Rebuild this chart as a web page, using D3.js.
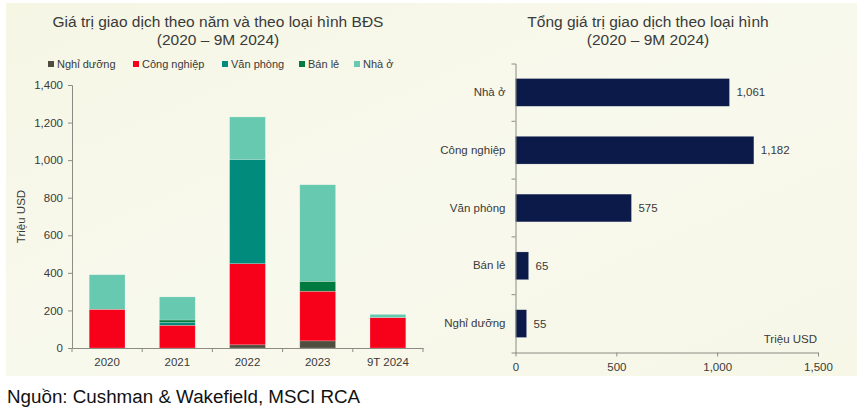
<!DOCTYPE html>
<html>
<head>
<meta charset="utf-8">
<script src="https://cdn.jsdelivr.net/npm/d3@7"></script>
<style>
  html, body { margin: 0; padding: 0; background: #ffffff; }
  svg { display: block; font-family: "Liberation Sans", Arial, sans-serif; }
</style>
</head>
<body>
<svg id="chart" width="864" height="416"></svg>
<script>
// ---------- DATA ----------
const years = ["2020", "2021", "2022", "2023", "9T 2024"];
const seriesNames = ["Nghỉ dưỡng", "Công nghiệp", "Văn phòng", "Bán lẻ", "Nhà ở"];
const nghiDuong  = [0, 0, 17, 38, 0];
const congNghiep = [206, 121, 432, 264, 162];
const vanPhong   = [0, 16, 555, 0, 0];
const banLe      = [0, 12, 0, 53, 0];
const nhaO       = [184, 123, 226, 514, 17];
const leftTicks  = [0, 200, 400, 600, 800, 1000, 1200, 1400];

const totalCategories = ["Nhà ở", "Công nghiệp", "Văn phòng", "Bán lẻ", "Nghỉ dưỡng"];
const totalValues     = [1061, 1182, 575, 65, 55];
const rightTicks      = [0, 500, 1000, 1500];

const seriesColors = ["#4f4d3e", "#f7001a", "#008b7d", "#007a3f", "#67c9b0"];

// ---------- SETUP ----------
const svg = d3.select("#chart");
const fmt = d3.format(",");
const textColor = "#3a3a3a";
const axisColor = "#8c8c84";
const fs = 11.5;

// background panel
svg.append("rect").attr("x", 6).attr("y", 3).attr("width", 851).attr("height", 373)
  .attr("fill", "#f5f6e4");
const defs = svg.append("defs");
const g1 = defs.append("linearGradient").attr("id", "sheen").attr("x1", "0").attr("y1", "0").attr("x2", "1").attr("y2", "1");
g1.append("stop").attr("offset", "0").attr("stop-color", "#ffffff").attr("stop-opacity", 0.0);
g1.append("stop").attr("offset", "0.5").attr("stop-color", "#ffffff").attr("stop-opacity", 0.35);
g1.append("stop").attr("offset", "1").attr("stop-color", "#ffffff").attr("stop-opacity", 0.1);
svg.append("rect").attr("x", 6).attr("y", 3).attr("width", 851).attr("height", 373)
  .attr("fill", "url(#sheen)");

// ---------- LEFT CHART ----------
const L = { x0: 72, x1: 423, y0: 348, y1: 85 };
const x = d3.scaleBand().domain(years).range([L.x0, L.x1]).paddingInner(0.49).paddingOuter(0.245);
const y = d3.scaleLinear().domain([0, 1400]).range([L.y0, L.y1]);

const rows = years.map((yr, i) => ({
  year: yr,
  "Nghỉ dưỡng": nghiDuong[i],
  "Công nghiệp": congNghiep[i],
  "Văn phòng": vanPhong[i],
  "Bán lẻ": banLe[i],
  "Nhà ở": nhaO[i]
}));
const stacked = d3.stack().keys(seriesNames)(rows);

svg.append("g").selectAll("g").data(stacked).join("g")
  .attr("fill", (d, i) => seriesColors[i])
  .selectAll("rect").data(d => d.filter(p => p[1] - p[0] > 0)).join("rect")
  .attr("x", d => x(d.data.year))
  .attr("width", x.bandwidth())
  .attr("y", d => y(d[1]))
  .attr("height", d => y(d[0]) - y(d[1]))
  .attr("stroke", "#ffffff").attr("stroke-opacity", 0.35).attr("stroke-width", 0.6);

// y axis
const yAxis = svg.append("g").attr("transform", `translate(${L.x0},0)`)
  .call(d3.axisLeft(y).tickValues(leftTicks).tickFormat(fmt).tickSize(4).tickSizeOuter(4).tickPadding(5));
yAxis.selectAll("path, line").attr("stroke", axisColor);
yAxis.selectAll("text").attr("fill", textColor).attr("font-size", fs);
yAxis.attr("font-family", null);

// x axis
const xAxis = svg.append("g").attr("transform", `translate(0,${L.y0})`)
  .call(d3.axisBottom(x).tickSize(0).tickSizeOuter(0).tickPadding(10));
xAxis.select("path").attr("stroke", axisColor);
xAxis.selectAll("text").attr("fill", textColor).attr("font-size", fs);
xAxis.attr("font-family", null);
const step = x.step();
const boundaries = years.map(d => x(d) - (step - x.bandwidth()) / 2).concat([x(years[years.length - 1]) + x.bandwidth() + (step - x.bandwidth()) / 2]);
xAxis.selectAll("line.bnd").data(boundaries).join("line").attr("class", "bnd")
  .attr("x1", d => d).attr("x2", d => d).attr("y1", 0).attr("y2", 4)
  .attr("stroke", axisColor);

// y label
svg.append("text").attr("transform", `translate(25,${(L.y0 + L.y1) / 2}) rotate(-90)`)
  .attr("text-anchor", "middle").attr("font-size", fs).attr("fill", textColor).text("Triệu USD");

// title
const t1 = svg.append("text").attr("x", 218).attr("text-anchor", "middle").attr("fill", textColor).attr("font-size", 15.5);
t1.append("tspan").attr("x", 218).attr("y", 27).text("Giá trị giao dịch theo năm và theo loại hình BĐS");
t1.append("tspan").attr("x", 218).attr("y", 45).text("(2020 – 9M 2024)");

// legend
const legendX = [48, 133, 222, 299, 354];
const lg = svg.append("g").selectAll("g").data(seriesNames).join("g")
  .attr("transform", (d, i) => `translate(${legendX[i]},64)`);
lg.append("rect").attr("x", 0).attr("y", -3).attr("width", 6).attr("height", 6).attr("fill", (d, i) => seriesColors[i]);
lg.append("text").attr("x", 9).attr("y", 4).attr("font-size", 11).attr("fill", textColor).text(d => d);

// ---------- RIGHT CHART ----------
const R = { x0: 515.5, x1: 818, y0: 63.5, y1: 352.5 };
const xr = d3.scaleLinear().domain([0, 1500]).range([R.x0, R.x1]);
const yr = d3.scaleBand().domain(totalCategories).range([R.y0, R.y1]).paddingInner(0.52).paddingOuter(0.26);

svg.append("g").selectAll("rect").data(totalCategories).join("rect")
  .attr("x", xr(0))
  .attr("y", d => yr(d))
  .attr("height", yr.bandwidth())
  .attr("width", (d, i) => xr(totalValues[i]) - xr(0))
  .attr("fill", "#0b1a49")
  .attr("stroke", "#ffffff").attr("stroke-opacity", 0.35).attr("stroke-width", 0.6);

svg.append("g").selectAll("text").data(totalCategories).join("text")
  .attr("x", (d, i) => xr(totalValues[i]) + 7)
  .attr("y", d => yr(d) + yr.bandwidth() / 2 + 4)
  .attr("font-size", fs).attr("fill", textColor)
  .text((d, i) => fmt(totalValues[i]));

// right y axis (category labels + boundary ticks)
const yrAxis = svg.append("g").attr("transform", `translate(${R.x0},0)`)
  .call(d3.axisLeft(yr).tickSize(0).tickSizeOuter(4).tickPadding(10));
yrAxis.select("path").attr("stroke", axisColor);
yrAxis.selectAll("text").attr("fill", textColor).attr("font-size", fs);
yrAxis.attr("font-family", null);
const rstep = yr.step();
const rb = totalCategories.slice(1).map(d => yr(d) - (rstep - yr.bandwidth()) / 2);
yrAxis.selectAll("line.bnd").data(rb).join("line").attr("class", "bnd")
  .attr("x1", -4).attr("x2", 0).attr("y1", d => d).attr("y2", d => d).attr("stroke", axisColor);

// right x axis
const xrAxis = svg.append("g").attr("transform", `translate(0,${R.y1})`)
  .call(d3.axisBottom(xr).tickValues(rightTicks).tickFormat(fmt).tickSize(4).tickSizeOuter(0).tickPadding(6));
xrAxis.selectAll("path, line").attr("stroke", axisColor);
xrAxis.selectAll("text").attr("fill", textColor).attr("font-size", fs);
xrAxis.attr("font-family", null);

svg.append("text").attr("x", 817).attr("y", 343).attr("text-anchor", "end")
  .attr("font-size", fs).attr("fill", textColor).text("Triệu USD");

// right title
const t2 = svg.append("text").attr("x", 648).attr("text-anchor", "middle").attr("fill", textColor).attr("font-size", 15.5);
t2.append("tspan").attr("x", 648).attr("y", 27).text("Tổng giá trị giao dịch theo loại hình");
t2.append("tspan").attr("x", 648).attr("y", 45).text("(2020 – 9M 2024)");

// source
svg.append("text").attr("x", 7).attr("y", 403).attr("font-size", 18.8).attr("fill", "#111111")
  .text("Nguồn: Cushman & Wakefield, MSCI RCA");
</script>
</body>
</html>
